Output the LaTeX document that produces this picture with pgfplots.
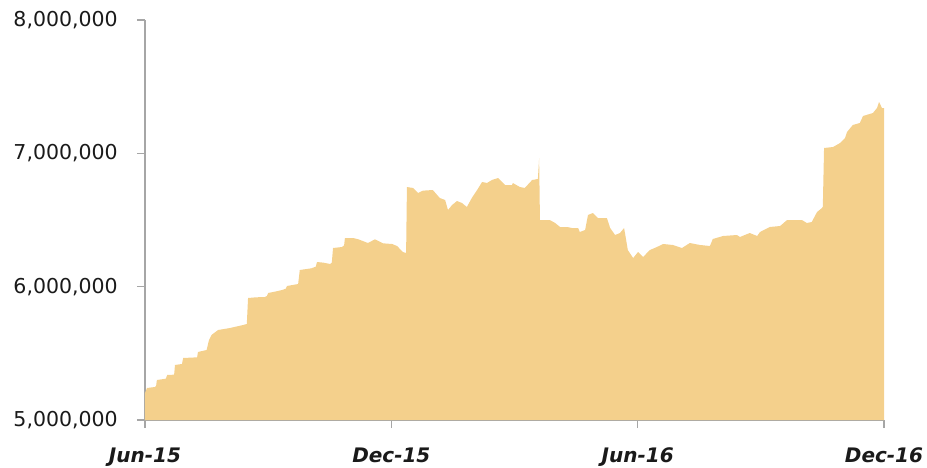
\documentclass[border=0pt]{standalone}
\usepackage{fontspec}
\setmainfont{DejaVu Sans}
\usepackage{pgfplots}
\pgfplotsset{compat=1.18}
\definecolor{areafill}{HTML}{F4D08C}
\definecolor{axgray}{HTML}{A6A6A6}
\definecolor{txt}{HTML}{1A1A1A}
\begin{document}
\begin{tikzpicture}
\begin{axis}[
  scale only axis,
  width=739pt, height=400pt,
  xmin=0, xmax=18, ymin=5000000, ymax=8000000,
  axis x line=bottom, axis y line=left,
  axis line style={-, axgray, line width=1.3pt},
  tick style={axgray, line width=1.3pt},
  tick align=outside,
  major tick length=8pt,
  xtick={0,6,12,18},
  xticklabels={Jun-15,Dec-15,Jun-16,Dec-16},
  ytick={5000000,6000000,7000000,8000000},
  scaled y ticks=false,
  /pgf/number format/assume math mode=true,
  yticklabel={\pgfmathprintnumber[fixed,precision=0,1000 sep={,}]{\tick}},
  yticklabel style={font=\fontsize{20.5}{24}\selectfont, text=txt, inner sep=0pt, anchor=east, xshift=-19pt},
  xticklabel style={font=\fontsize{20}{24}\selectfont\bfseries\itshape, text=txt, inner sep=0pt, anchor=base, yshift=-34pt},
  clip=true,
]
\addplot[fill=areafill, draw=none] coordinates {
(0.00,5202500)(0.05,5240000)(0.24,5247500)(0.27,5255000)(0.29,5300000)(0.51,5310000)
(0.54,5337500)(0.71,5340000)(0.73,5412500)(0.90,5420000)(0.93,5465000)(1.27,5470000)
(1.29,5510000)(1.50,5525000)(1.56,5600000)(1.62,5637500)(1.78,5675000)(2.07,5690000)
(2.39,5712500)(2.48,5720000)(2.51,5915000)(2.70,5920000)(2.92,5922500)(2.97,5930000)
(3.00,5952500)(3.20,5965000)(3.34,5975000)(3.43,5985000)(3.46,6005000)(3.73,6020000)
(3.77,6125000)(4.05,6137500)(4.16,6150000)(4.19,6185000)(4.35,6180000)(4.51,6170000)
(4.55,6180000)(4.58,6290000)(4.80,6297500)(4.85,6310000)(4.87,6365000)(5.07,6365000)
(5.20,6355000)(5.43,6327500)(5.60,6355000)(5.80,6325000)(6.02,6320000)(6.14,6305000)
(6.28,6260000)(6.36,6252500)(6.38,6747500)(6.53,6740000)(6.65,6702500)(6.77,6720000)
(7.01,6725000)(7.18,6665000)(7.31,6650000)(7.38,6575000)(7.48,6612500)(7.60,6642500)
(7.72,6627500)(7.84,6597500)(7.96,6665000)(8.09,6725000)(8.21,6785000)(8.33,6777500)
(8.45,6800000)(8.60,6815000)(8.77,6762500)(8.94,6762500)(8.96,6777500)(9.13,6747500)
(9.25,6740000)(9.43,6800000)(9.57,6807500)(9.60,6965000)(9.62,6500000)(9.86,6500000)
(9.99,6477500)(10.11,6447500)(10.28,6447500)(10.40,6440000)(10.55,6440000)(10.59,6410000)
(10.72,6425000)(10.79,6537500)(10.91,6552500)(11.03,6515000)(11.25,6515000)(11.33,6440000)
(11.45,6387500)(11.57,6402500)(11.67,6440000)(11.76,6275000)(11.89,6215000)(12.01,6260000)
(12.13,6222500)(12.30,6275000)(12.47,6297500)(12.62,6320000)(12.86,6312500)(13.08,6290000)
(13.27,6327500)(13.52,6312500)(13.76,6305000)(13.83,6357500)(14.08,6380000)(14.42,6387500)
(14.49,6372500)(14.73,6402500)(14.91,6380000)(14.98,6410000)(15.22,6447500)(15.47,6455000)
(15.64,6500000)(16.00,6500000)(16.12,6477500)(16.24,6485000)(16.37,6560000)(16.49,6590000)
(16.51,6600000)(16.54,7040000)(16.76,7047500)(16.93,7077500)(17.05,7115000)(17.10,7160000)
(17.24,7212500)(17.41,7227500)(17.49,7280000)(17.73,7302500)(17.83,7340000)(17.88,7385000)
(17.95,7340000)(18.00,7340000)
} \closedcycle;
\end{axis}
\pgfresetboundingbox
\path (current axis.south west) ++(-145pt,-47pt) rectangle ++(927pt,467pt);
\end{tikzpicture}
\end{document}
